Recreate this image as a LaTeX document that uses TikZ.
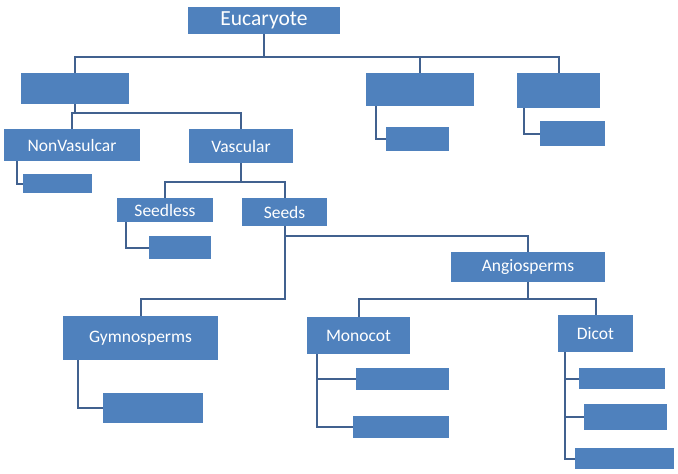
\documentclass[tikz,border=0pt]{standalone}
\usepackage{fontspec}
\setmainfont{Carlito}
\definecolor{boxblue}{HTML}{4F81BD}
\definecolor{linkblue}{HTML}{41618F}
\begin{document}
\begin{tikzpicture}[x=1pt,y=-1pt,
  box/.style={fill=boxblue,text=white,inner sep=0pt,outer sep=0pt,
    font=\fontsize{17.5}{20}\selectfont},
  link/.style={draw=linkblue,line width=2pt}]
\useasboundingbox (0,0) rectangle (678,474);
\newcommand\bx[6][]{%
  \node[box,#1,minimum width={(#4-#2)*1pt},minimum height={(#5-#3)*1pt}]
    (#6) at ({(#2+#4)/2},{(#3+#5)/2}) {};}
% boxes: \bx{x1}{y1}{x2}{y2}{name}
\node[box,minimum width=152pt,minimum height=27pt,font=\fontsize{21.5}{24}\selectfont] (euc) at (264,20.5) {Eucaryote};
\bx{21}{73}{129}{104}{a}
\bx{366}{73}{474}{106}{b}
\bx{517}{73}{600}{108}{c}
\bx{386}{127}{449}{151}{bc}
\bx{540}{121}{605}{146}{cc}
\node[box,minimum width=136pt,minimum height=32pt] (nv) at (72,145) {NonVasulcar};
\node[box,minimum width=104pt,minimum height=34pt] (vasc) at (241,146) {Vascular};
\bx{23}{174}{92}{193}{nvc}
\node[box,minimum width=96pt,minimum height=24pt] (sl) at (165,210) {Seedless};
\node[box,minimum width=85pt,minimum height=28pt] (seeds) at (284.5,212) {Seeds};
\bx{149}{236}{211}{259}{slc}
\node[box,minimum width=154pt,minimum height=30pt] (ang) at (528,267) {Angiosperms};
\node[box,minimum width=155pt,minimum height=44pt] (gym) at (140.5,338) {Gymnosperms};
\bx{103}{393}{203}{423}{gymc}
\node[box,minimum width=103pt,minimum height=37pt] (mono) at (358.5,335.5) {Monocot};
\node[box,minimum width=75pt,minimum height=37pt] (dic) at (595.5,333.5) {Dicot};
\bx{356}{368}{449}{390}{mc1}
\bx{353}{416}{449}{438}{mc2}
\bx{579}{368}{665}{389}{dc1}
\bx{584}{404}{667}{430}{dc2}
\bx{575}{448}{674}{469}{dc3}
% connectors
\draw[link] (euc.south) -- ++(0,23) -| (a.north);
\draw[link] (euc.south) -- ++(0,23) -| (b.north);
\draw[link] (euc.south) -- ++(0,23) -| (c.north);
\draw[link] ([xshift=10pt]b.south west) |- (bc.west);
\draw[link] ([xshift=7pt]c.south west) |- (cc.west);
\draw[link] (a.south) -- ++(0,9) -| (nv.north);
\draw[link] (a.south) -- ++(0,9) -| (vasc.north);
\draw[link] ([xshift=13pt]nv.south west) |- (nvc.west);
\draw[link] (vasc.south) -- ++(0,19) -| (sl.north);
\draw[link] (vasc.south) -- ++(0,19) -| (seeds.north);
\draw[link] ([xshift=9pt]sl.south west) |- (slc.west);
\draw[link] (seeds.south) -- ++(0,73) -| (gym.north);
\draw[link] ([yshift=-10pt]seeds.south) -| (ang.north);
\draw[link] ([xshift=15pt]gym.south west) |- (gymc.west);
\draw[link] (ang.south) -- ++(0,17) -| (mono.north);
\draw[link] (ang.south) -- ++(0,17) -| (dic.north);
\draw[link] ([xshift=10pt]mono.south west) |- (mc1.west);
\draw[link] ([xshift=10pt]mono.south west) |- (mc2.west);
\draw[link] ([xshift=7pt]dic.south west) |- (dc1.west);
\draw[link] ([xshift=7pt]dic.south west) |- (dc2.west);
\draw[link] ([xshift=7pt]dic.south west) |- (dc3.west);
\end{tikzpicture}
\end{document}
